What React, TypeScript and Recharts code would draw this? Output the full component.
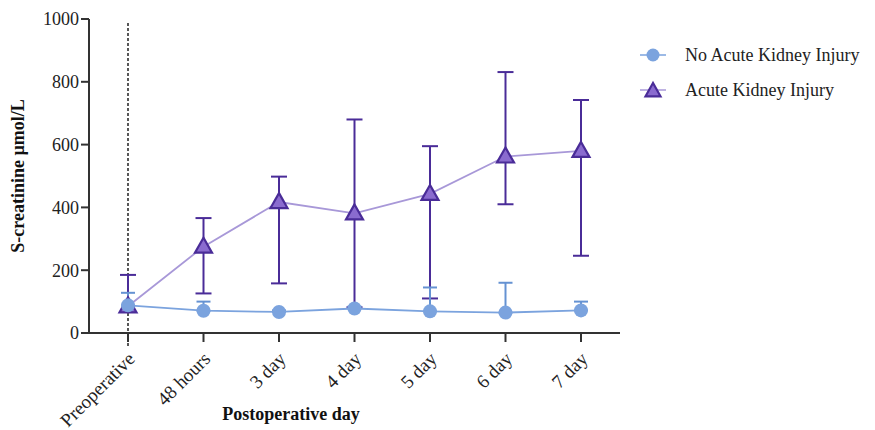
import React from "react"
import { ErrorBar, Line, LineChart, ReferenceLine, XAxis, YAxis } from "recharts"

const categories = ["Preoperative", "48 hours", "3 day", "4 day", "5 day", "6 day", "7 day"]

// No acute kidney injury: mean and upper bound
const noAkiMean = [88, 71, 67, 78, 69, 65, 72]
const noAkiUpper = [128, 100, 72, 84, 145, 160, 100]

// Acute kidney injury: mean with lower / upper bound
const akiMean = [85, 275, 417, 381, 443, 562, 580]
const akiLower = [68, 126, 158, 82, 110, 410, 246]
const akiUpper = [185, 366, 498, 680, 595, 831, 742]

const yTicks = [0, 200, 400, 600, 800, 1000]

const FONT = "'Liberation Serif', 'Times New Roman', serif"
const AXIS = "#333333"
const BLUE = "#7ba3de"
const BLUE_DARK = "#6592d2"
const PURPLE_LINE = "#a898d8"
const PURPLE_FILL = "#8a6bcf"
const PURPLE_DARK = "#4a2c98"

const chartData = categories.map((day, i) => ({
  day,
  noAki: noAkiMean[i],
  noAkiErr: [0, noAkiUpper[i] - noAkiMean[i]],
  aki: akiMean[i],
  akiErr: [akiMean[i] - akiLower[i], akiUpper[i] - akiMean[i]],
}))

function Triangle({ cx, cy, size = 17 }: { cx: number; cy: number; size?: number }) {
  const h = size * 0.88
  const pts = `${cx},${cy - h * 0.6} ${cx - size / 2},${cy + h * 0.4} ${cx + size / 2},${cy + h * 0.4}`
  return <polygon points={pts} fill={PURPLE_FILL} stroke={PURPLE_DARK} strokeWidth={2.2} strokeLinejoin="miter" />
}

function AngledTick({ x, y, payload }: any) {
  return (
    <g transform={`translate(${x + 8},${y + 16})`}>
      <text x={0} y={0} textAnchor="end" transform="rotate(-45)" fill="#222" fontSize={19} fontFamily={FONT}>
        {payload.value}
      </text>
    </g>
  )
}

function LegendBox() {
  const rows = [
    { label: "No Acute Kidney Injury", kind: "circle", color: BLUE },
    { label: "Acute Kidney Injury", kind: "triangle", color: PURPLE_LINE },
  ]
  return (
    <svg width={240} height={70} style={{ position: "absolute", left: 640, top: 40 }}>
      {rows.map((r, i) => {
        const cy = 15 + i * 35
        return (
          <g key={r.label}>
            <line x1={0} x2={26} y1={cy} y2={cy} stroke={r.color} strokeWidth={1.5} />
            {r.kind === "circle" ? (
              <circle cx={13} cy={cy} r={6.5} fill={BLUE} />
            ) : (
              <Triangle cx={13} cy={cy + 1} size={15} />
            )}
            <text x={45} y={cy + 6} fontSize={18} fontFamily={FONT} fill="#222">
              {r.label}
            </text>
          </g>
        )
      })}
    </svg>
  )
}

// dotted marker at the preoperative baseline, running slightly past the plot edges
function BaselineMarker(p: any) {
  const top = Math.min(p.y1, p.y2)
  const bottom = Math.max(p.y1, p.y2)
  return (
    <line x1={p.x1} x2={p.x2} y1={top + 4} y2={bottom + 14} stroke="#111" strokeWidth={1.4} strokeDasharray="3 2" />
  )
}

export default function App() {
  return (
    <div style={{ position: "absolute", left: 0, top: 0, width: 875, height: 430, background: "#fff" }}>
      <LineChart width={875} height={430} data={chartData} margin={{ top: 19, right: 255, bottom: 0, left: 0 }}>
        <XAxis
          dataKey="day"
          height={97}
          padding={{ left: 39, right: 39 }}
          tick={<AngledTick />}
          tickSize={9}
          axisLine={{ stroke: AXIS, strokeWidth: 2 }}
          tickLine={{ stroke: AXIS, strokeWidth: 2 }}
          interval={0}
          label={{
            content: () => (
              <text x={291} y={420} textAnchor="middle" fontSize={18} fontWeight="bold" fontFamily={FONT} fill="#111">
                Postoperative day
              </text>
            ),
          }}
        />
        <YAxis
          width={89}
          domain={[0, 1000]}
          ticks={yTicks}
          tickSize={8}
          axisLine={{ stroke: AXIS, strokeWidth: 2 }}
          tickLine={{ stroke: AXIS, strokeWidth: 2 }}
          tick={{ fontSize: 18, fontFamily: FONT, fill: "#222" }}
          label={{
            content: () => (
              <text
                x={24}
                y={176}
                textAnchor="middle"
                transform="rotate(-90, 24, 176)"
                fontSize={18}
                fontWeight="bold"
                fontFamily={FONT}
                fill="#111"
              >
                S-creatinine µmol/L
              </text>
            ),
          }}
        />
        <ReferenceLine x="Preoperative" shape={BaselineMarker} />
        <Line
          dataKey="aki"
          name="Acute Kidney Injury"
          stroke={PURPLE_LINE}
          strokeWidth={1.8}
          isAnimationActive={false}
          dot={(p: any) => <Triangle key={`t${p.index}`} cx={p.cx} cy={p.cy} />}
          activeDot={false}
        >
          <ErrorBar dataKey="akiErr" width={8} stroke={PURPLE_DARK} strokeWidth={2} direction="y" />
        </Line>
        <Line
          dataKey="noAki"
          name="No Acute Kidney Injury"
          stroke={BLUE}
          strokeWidth={1.8}
          isAnimationActive={false}
          dot={(p: any) => <circle key={`c${p.index}`} cx={p.cx} cy={p.cy} r={7} fill={BLUE} stroke="none" />}
          activeDot={false}
        >
          <ErrorBar dataKey="noAkiErr" width={7} stroke={BLUE_DARK} strokeWidth={2} direction="y" />
        </Line>
      </LineChart>
      <LegendBox />
    </div>
  )
}
